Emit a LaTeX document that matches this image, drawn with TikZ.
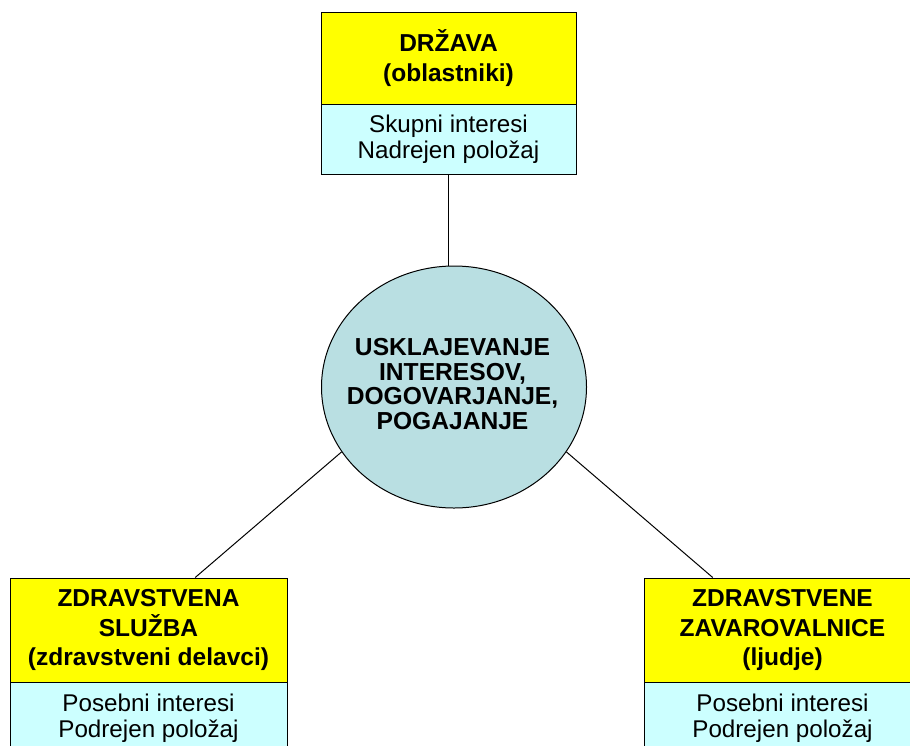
\documentclass[tikz,border=0pt]{standalone}
\usepackage{fontspec}
\setmainfont{Liberation Sans}
\usetikzlibrary{shapes.geometric,calc}
\definecolor{boxyellow}{HTML}{FFFF00}
\definecolor{boxcyan}{HTML}{CCFFFF}
\definecolor{circfill}{HTML}{B9DFE2}
\begin{document}
\begin{tikzpicture}[x=1pt,y=-1pt,
  cell/.style={draw=black, line width=1pt, rectangle, inner sep=0pt, align=center, font=\fontsize{24.2}{27}\selectfont},
  head/.style={cell, fill=boxyellow, font=\bfseries\fontsize{24.5}{29.5}\selectfont},
  body/.style={cell, fill=boxcyan, font=\fontsize{24.2}{25.5}\selectfont},
  hub/.style={draw=black, line width=1pt, ellipse, fill=circfill, inner sep=0pt},
  link/.style={draw=black, line width=1pt}]
\useasboundingbox (0,0) rectangle (910,745);
\fill[white] (0,0) rectangle (910,745);
\clip (0,0) rectangle (910,745);

% top box
\node[head, minimum width=255pt, minimum height=92pt] (dY) at (448.5,58) {DRŽAVA\\(oblastniki)};
\node[body, minimum width=255pt, minimum height=70pt, font=\fontsize{24.2}{26.5}\selectfont] (dC) at (448.5,139) {Skupni interesi\\Nadrejen položaj};

% hub
\node[hub, minimum width=265pt, minimum height=242pt] (circ) at (454,387) {};
\node[font=\bfseries\fontsize{24.6}{24.7}\selectfont, align=center, inner sep=0pt] (circtxt) at (452.5,384) {USKLAJEVANJE\\INTERESOV,\\DOGOVARJANJE,\\POGAJANJE};

% bottom left
\node[head, minimum width=277pt, minimum height=104pt] (zY) at (148.5,630) {ZDRAVSTVENA\\SLUŽBA\\(zdravstveni delavci)};
\node[body, minimum width=277pt, minimum height=72pt] (zC) at (148.5,718) {Posebni interesi\\Podrejen položaj};

% bottom right
\node[head, minimum width=277pt, minimum height=104pt] (vY) at (782.5,630) {ZDRAVSTVENE\\ZAVAROVALNICE\\(ljudje)};
\node[body, minimum width=277pt, minimum height=72pt] (vC) at (782.5,718) {Posebni interesi\\Podrejen položaj};

% connectors
\coordinate (lEnd) at ($(zY.north west)!0.668!(zY.north east)$);
\coordinate (rEnd) at ($(vY.north west)!0.249!(vY.north east)$);
\draw[link] (dC.south) -- (dC.south |- circ.north);
\draw[link] (circ.210) -- (lEnd);
\draw[link] (circ.330) -- (rEnd);
\end{tikzpicture}
\end{document}
